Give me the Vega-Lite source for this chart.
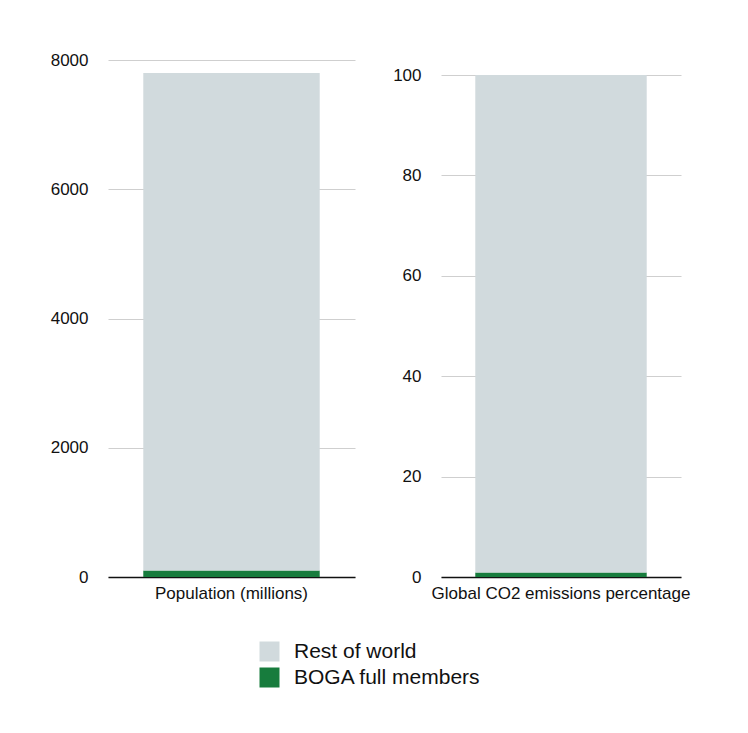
{
  "$schema": "https://vega.github.io/schema/vega-lite/v6.json",
  "padding": {"left": 50, "top": 51, "right": 10, "bottom": 10},
  "background": "white",
  "data": {
    "values": [
      {"metric": "Population (millions)", "group": "BOGA full members", "value": 100, "order": 0},
      {"metric": "Population (millions)", "group": "Rest of world", "value": 7700, "order": 1},
      {"metric": "Global CO2 emissions percentage", "group": "BOGA full members", "value": 0.9, "order": 0},
      {"metric": "Global CO2 emissions percentage", "group": "Rest of world", "value": 99.1, "order": 1}
    ]
  },
  "spacing": 37,
  "hconcat": [
    {
      "width": 247,
      "height": 517,
      "transform": [{"filter": "datum.metric === 'Population (millions)'"}],
      "mark": {"type": "bar"},
      "encoding": {
        "x": {"field": "metric", "type": "nominal", "axis": {"title": null}, "scale": {"paddingInner": 0, "paddingOuter": 0.2}},
        "y": {"field": "value", "type": "quantitative", "stack": "zero", "axis": {"title": null, "format": "d", "values": [0, 2000, 4000, 6000, 8000]}, "scale": {"domain": [0, 8000], "nice": false}},
        "color": {"field": "group", "type": "nominal", "scale": {"domain": ["Rest of world", "BOGA full members"], "range": ["#d1dadd", "#177c3d"]}, "legend": {"title": null}},
        "order": {"field": "order", "type": "quantitative"}
      }
    },
    {
      "width": 240,
      "height": 517,
      "transform": [{"filter": "datum.metric === 'Global CO2 emissions percentage'"}],
      "mark": {"type": "bar"},
      "encoding": {
        "x": {"field": "metric", "type": "nominal", "axis": {"title": null}, "scale": {"paddingInner": 0, "paddingOuter": 0.2}},
        "y": {"field": "value", "type": "quantitative", "stack": "zero", "axis": {"title": null, "format": "d", "values": [0, 20, 40, 60, 80, 100]}, "scale": {"domain": [0, 103], "nice": false}},
        "color": {"field": "group", "type": "nominal", "scale": {"domain": ["Rest of world", "BOGA full members"], "range": ["#d1dadd", "#177c3d"]}, "legend": {"title": null}},
        "order": {"field": "order", "type": "quantitative"}
      }
    }
  ],
  "resolve": {"scale": {"y": "independent", "x": "independent"}},
  "config": {
    "font": "Liberation Sans",
    "view": {"stroke": null},
    "axisY": {"domain": false, "ticks": false, "labelPadding": 20, "labelFontSize": 17, "labelColor": "#111", "gridColor": "#cfcfcf", "gridWidth": 1},
    "axisX": {"domainColor": "#111", "domainWidth": 1.6, "ticks": false, "labelAngle": 0, "labelFontSize": 17, "labelColor": "#111", "labelPadding": 8, "labelLimit": 400, "grid": false},
    "legend": {"orient": "bottom", "direction": "vertical", "offset": 40, "symbolType": "square", "symbolSize": 400, "symbolStrokeWidth": 0, "labelFontSize": 21, "labelColor": "#111", "labelOffset": 14, "labelLimit": 400, "rowPadding": 4, "layout": {"bottom": {"anchor": "middle"}}}
  }
}
